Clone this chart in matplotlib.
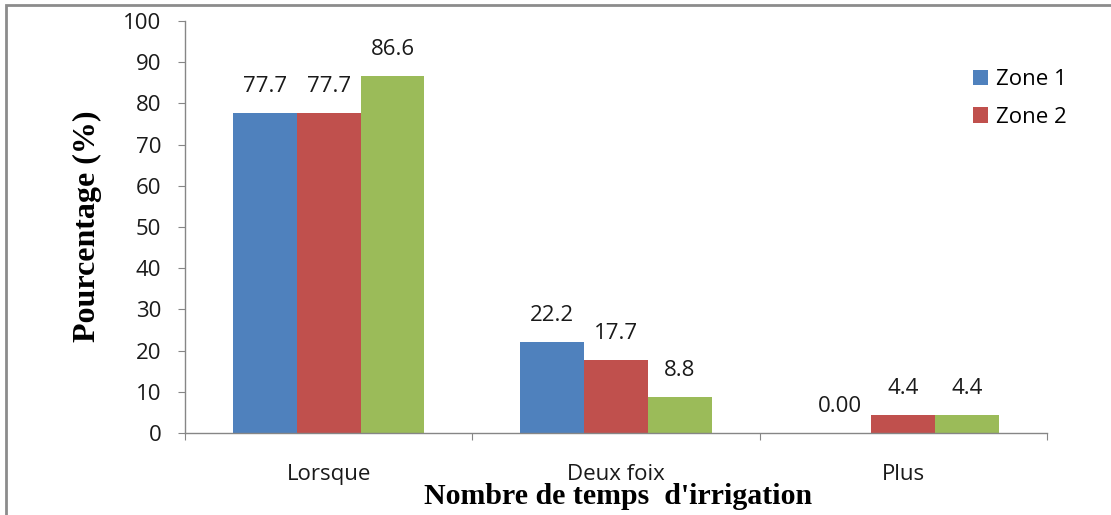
import matplotlib
matplotlib.use("Agg")
import matplotlib.pyplot as plt
from matplotlib.patches import Rectangle
import numpy as np

categories = ["Lorsque", "Deux foix", "Plus"]
series_names = ["Zone 1", "Zone 2", "Zone 3"]
zone1 = [77.7, 22.2, 0.0]
zone2 = [77.7, 17.7, 4.4]
zone3 = [86.6, 8.8, 4.4]
labels1 = ["77.7", "22.2", "0.00"]
labels2 = ["77.7", "17.7", "4.4"]
labels3 = ["86.6", "8.8", "4.4"]
colors = ["#4F81BD", "#C0504D", "#9BBB59"]

W, H = 1111, 515
fig = plt.figure(figsize=(W / 100, H / 100), dpi=100)
ax = fig.add_axes([185 / W, 1 - 433 / H, (1047 - 185) / W, (433 - 21) / H])

tick_font = "Open Sans"
x = np.arange(len(categories))
bw = 1 / 4.5
data = [zone1, zone2, zone3]
labs = [labels1, labels2, labels3]
for i, (vals, lab, col, name) in enumerate(zip(data, labs, colors, series_names)):
    pos = x + (i - 1) * bw
    ax.bar(pos, vals, width=bw, color=col, label=name if i < 2 else "_nolegend_")
    for p, v, t in zip(pos, vals, lab):
        ax.annotate(t, (p, v), xytext=(0, 19), textcoords="offset points",
                    ha="center", va="center", fontsize=16, family=tick_font, color="#1a1a1a")

ax.set_xlim(-0.5, 2.5)
ax.set_ylim(0, 100)
ax.set_yticks(np.arange(0, 101, 10))
ax.set_xticks([-0.5, 0.5, 1.5, 2.5])
ax.set_xticklabels([])
ax.set_xticks(x, minor=True)
ax.set_xticklabels(categories, minor=True)
ax.tick_params(axis="x", which="minor", length=0, pad=22, labelsize=16)
ax.tick_params(axis="x", which="major", length=5, color="#868686", direction="out")
ax.tick_params(axis="y", length=5, color="#868686", pad=12, labelsize=16)
for lbl in ax.get_xticklabels(minor=True) + ax.get_yticklabels():
    lbl.set_family(tick_font)
    lbl.set_color("#1a1a1a")

for s in ["top", "right"]:
    ax.spines[s].set_visible(False)
for s in ["left", "bottom"]:
    ax.spines[s].set_color("#868686")
    ax.spines[s].set_linewidth(1.0)

fig.text(87 / W, 1 - 226 / H, "Pourcentage (%)", family="Liberation Serif", fontweight="bold",
         fontsize=23, rotation=90, ha="center", va="center")
fig.text(618 / W, 1 - 504 / H, "Nombre de temps  d'irrigation", family="Liberation Serif",
         fontweight="bold", fontsize=21.5, ha="center", va="baseline")

ax.legend(loc="upper left", bbox_to_anchor=(953 / W, 1 - 49 / H), bbox_transform=fig.transFigure,
          frameon=False, prop={"family": tick_font, "size": 16}, handlelength=0.68, handleheight=0.68,
          labelspacing=0.75, handletextpad=0.35)

fig.patches.append(Rectangle((6 / W, -0.1), 1.2, 1 - 5 / H + 0.1, transform=fig.transFigure,
                             fill=False, edgecolor="#8c8c8c", linewidth=2))

fig.savefig("out.png", dpi=100)
